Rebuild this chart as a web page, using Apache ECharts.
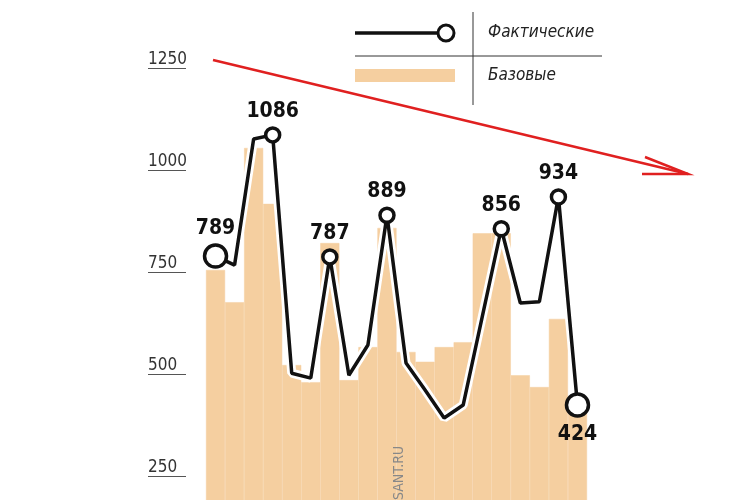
<!DOCTYPE html>
<html><head><meta charset="utf-8">
<script src="https://cdn.jsdelivr.net/npm/echarts@6/dist/echarts.min.js"></script>
<style>html,body{margin:0;padding:0;background:#fff;overflow:hidden;height:500px}#c{width:750px;height:578px}</style>
</head><body><div id="c"></div>
<script>
const categories = ['1','2','3','4','5','6','7','8','9','10','11','12','13','14','15','16','17','18','19','20'];
const baseValues = [755,676,1054,917,522,480,821,485,566,858,554,530,566,578,845,845,497,468,635,410];
const actualValues = [789,767,1076,1086,502,490,787,497,571,889,527,461,392,424,640,856,674,677,934,424];
const labeledIdx = [0,3,6,9,15,18,19];
const yTicks = [250,500,750,1000,1250];

const chart = echarts.init(document.getElementById('c'));
const font = "'DejaVu Sans Condensed',sans-serif";
const lineData = actualValues.map((v,i)=>{
  const lab = labeledIdx.includes(i);
  const big = (i===0||i===19);
  return {
    value:v,
    symbol: lab?'circle':'none',
    symbolSize: big?22:14,
    label:{show:lab, position: i===19?'bottom':'top', distance: i===19?6:4,
      formatter: String(v), color:'#111', fontSize:21, fontWeight:'bold', fontFamily:font}
  };
});
chart.setOption({
  animation:false,
  grid:{left:206,right:163,top:68,bottom:0,containLabel:false},
  xAxis:{type:'category',data:categories,boundaryGap:true,show:false},
  yAxis:{type:'value',min:0,max:1250,interval:250,offset:20,
    axisLine:{show:false},
    axisTick:{show:true,length:38,lineStyle:{color:'#555',width:1}},
    splitLine:{show:false},
    axisLabel:{show:true,inside:false,margin:38,align:'left',verticalAlign:'bottom',
      color:'#333',fontSize:17,fontFamily:font,
      formatter:v=>yTicks.includes(v)?String(v):''}},
  series:[
    {type:'bar',data:baseValues,barCategoryGap:'0%',barGap:'0%',itemStyle:{color:'#f5cfa0',borderColor:'#f5cfa0',borderWidth:0.5},silent:true},
    {type:'line',data:actualValues,symbol:'none',lineStyle:{color:'#fff',width:9},silent:true,z:3},
    {type:'line',data:lineData,lineStyle:{color:'#111',width:3.5},
      itemStyle:{color:'#fff',borderColor:'#111',borderWidth:3.5},z:4}
  ],
  graphic:[
    {type:'line',shape:{x1:213,y1:60,x2:688,y2:174},style:{stroke:'#e02020',lineWidth:2.5}},
    {type:'polyline',shape:{points:[[645,157],[688,174],[642,174]]},style:{stroke:'#e02020',lineWidth:2.5,fill:null}},
    {type:'line',shape:{x1:355,y1:33,x2:438,y2:33},style:{stroke:'#111',lineWidth:3.5}},
    {type:'circle',shape:{cx:446,cy:33,r:8},style:{fill:'#fff',stroke:'#111',lineWidth:3}},
    {type:'line',shape:{x1:473,y1:12,x2:473,y2:105},style:{stroke:'#333',lineWidth:1}},
    {type:'line',shape:{x1:355,y1:56,x2:602,y2:56},style:{stroke:'#333',lineWidth:1}},
    {type:'rect',shape:{x:355,y:69,width:100,height:13},style:{fill:'#f5cfa0'}},
    {type:'text',x:488,y:33,style:{text:'Фактические',fontSize:17,fontStyle:'italic',fontFamily:font,fill:'#222',verticalAlign:'middle'}},
    {type:'text',x:488,y:76,style:{text:'Базовые',fontSize:17,fontStyle:'italic',fontFamily:font,fill:'#222',verticalAlign:'middle'}},
    {type:'text',x:392,y:500,rotation:Math.PI/2,style:{text:'SANT.RU',fontSize:14,fontFamily:font,fill:'#888',align:'left',verticalAlign:'top'},z:10}
  ]
});
</script></body></html>
